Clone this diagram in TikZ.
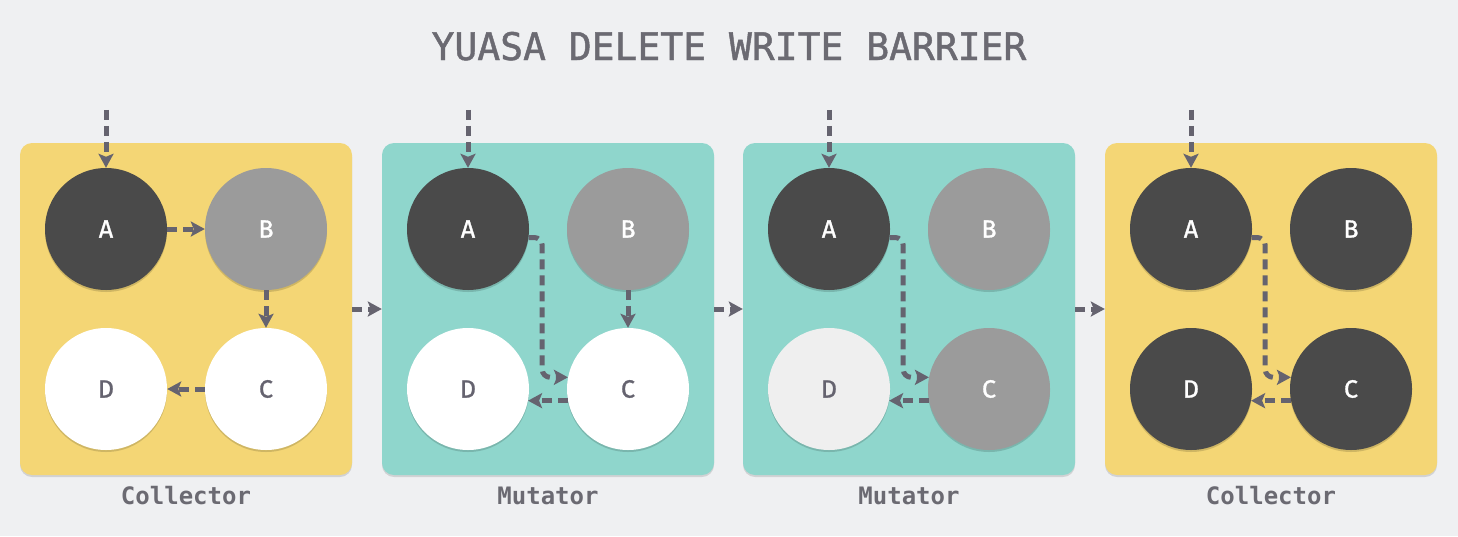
\documentclass[tikz,border=0pt]{standalone}
\usepackage{fontspec}
\setmainfont{Fira Sans}
\setmonofont{DejaVu Sans Mono}
\newfontfamily\objfont{Fira Sans}[FakeBold=1.2]
\newfontfamily\titlefont{DejaVu Sans Mono}[FakeBold=1.2]
\usetikzlibrary{arrows.meta,positioning,shadows}

\definecolor{bgcol}{HTML}{EFF0F2}
\definecolor{yellowbox}{HTML}{F4D675}
\definecolor{tealbox}{HTML}{8FD6CC}
\definecolor{darkobj}{HTML}{4A4A4A}
\definecolor{grayobj}{HTML}{9B9B9B}
\definecolor{lightobj}{HTML}{EFEFEF}
\definecolor{linkcol}{HTML}{65636F}
\definecolor{textcol}{HTML}{6B6A72}

\begin{document}
\begin{tikzpicture}[x=1pt,y=-1pt,
  panel/.style={rectangle,rounded corners=12pt,minimum size=332pt,inner sep=0pt,
    drop shadow={shadow xshift=0pt,shadow yshift=-2pt,opacity=0.12,fill=black}},
  collector/.style={panel,fill=yellowbox},
  mutator/.style={panel,fill=tealbox},
  obj/.style={circle,minimum size=122pt,inner sep=0pt,font=\objfont\fontsize{25}{25}\selectfont,
    drop shadow={shadow xshift=0pt,shadow yshift=-2pt,opacity=0.15,fill=black}},
  isdark/.style={obj,fill=darkobj,text=white},
  isgray/.style={obj,fill=grayobj,text=white},
  iswhite/.style={obj,fill=white,text=linkcol},
  islight/.style={obj,fill=lightobj,text=linkcol},
  link/.style={line width=5pt,dash pattern=on 10pt off 6pt,draw=linkcol,
    -{Stealth[length=14pt,width=15pt,inset=3pt,fill=linkcol]}},
  caption/.style={font=\ttfamily\bfseries\fontsize{24}{24}\selectfont,text=textcol,anchor=base}
]
  \fill[bgcol] (0,0) rectangle (1458,536); %Background
  \useasboundingbox (0,0) rectangle (1458,536);

  \node[font=\titlefont\fontsize{38}{38}\selectfont,text=textcol,anchor=base] (title) at (729,60) {YUASA DELETE WRITE BARRIER}; %Title

  \node[collector] (p1) at (186,309) {}; %Panel 1
  \node[mutator] (p2) at (548,309) {};   %Panel 2
  \node[mutator] (p3) at (909,309) {};   %Panel 3
  \node[collector] (p4) at (1271,309) {}; %Panel 4

  \node[isdark] (A1) at (106,229) {A}; %Panel 1 objects
  \node[isgray] (B1) at (266,229) {B};
  \node[iswhite] (C1) at (266,389) {C};
  \node[iswhite] (D1) at (106,389) {D};

  \node[isdark] (A2) at (468,229) {A}; %Panel 2 objects
  \node[isgray] (B2) at (628,229) {B};
  \node[iswhite] (C2) at (628,389) {C};
  \node[iswhite] (D2) at (468,389) {D};

  \node[isdark] (A3) at (829,229) {A}; %Panel 3 objects
  \node[isgray] (B3) at (989,229) {B};
  \node[isgray] (C3) at (989,389) {C};
  \node[islight] (D3) at (829,389) {D};

  \node[isdark] (A4) at (1191,229) {A}; %Panel 4 objects
  \node[isdark] (B4) at (1351,229) {B};
  \node[isdark] (C4) at (1351,389) {C};
  \node[isdark] (D4) at (1191,389) {D};

  \coordinate[above=58pt of A1.north] (in1); %Root pointers
  \coordinate[above=58pt of A2.north] (in2);
  \coordinate[above=58pt of A3.north] (in3);
  \coordinate[above=58pt of A4.north] (in4);
  \draw[link] (in1) -- (A1);
  \draw[link] (in2) -- (A2);
  \draw[link] (in3) -- (A3);
  \draw[link] (in4) -- (A4);

  \draw[link] (A1) -- (B1); %Panel 1 pointers
  \draw[link] (B1) -- (C1);
  \draw[link] (C1) -- (D1);

  \draw[link,rounded corners=8pt] (A2.-8) -| ([xshift=13pt]A2.east |- C2.169) -- (C2.169); %Panel 2 pointers
  \draw[link] (B2) -- (C2);
  \draw[link] (C2.191) -- (D2.-11);

  \draw[link,rounded corners=8pt] (A3.-8) -| ([xshift=13pt]A3.east |- C3.169) -- (C3.169); %Panel 3 pointers
  \draw[link] (C3.191) -- (D3.-11);

  \draw[link,rounded corners=8pt] (A4.-8) -| ([xshift=13pt]A4.east |- C4.169) -- (C4.169); %Panel 4 pointers
  \draw[link] (C4.191) -- (D4.-11);

  \draw[link] (p1.east) -- (p2.west); %Steps
  \draw[link] (p2.east) -- (p3.west);
  \draw[link] (p3.east) -- (p4.west);

  \node[caption] (c1) at (186,504) {Collector}; %Captions
  \node[caption] (c2) at (548,504) {Mutator};
  \node[caption] (c3) at (909,504) {Mutator};
  \node[caption] (c4) at (1271,504) {Collector};
\end{tikzpicture}
\end{document}
